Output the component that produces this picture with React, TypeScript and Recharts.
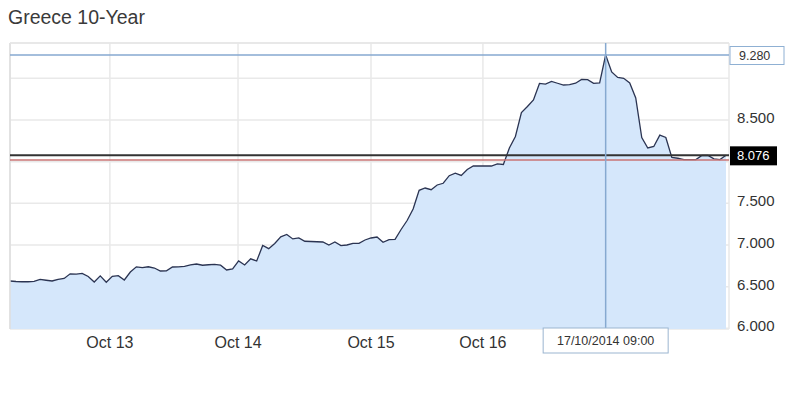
import React from 'react';
import { AreaChart, Area, XAxis, YAxis, CartesianGrid, ReferenceLine } from 'recharts';

const chartTitle = 'Greece 10-Year';
const dayLabels = ['Oct 13', 'Oct 14', 'Oct 15', 'Oct 16'];
const dayTickIndex = [16.6, 37.9, 60.0, 78.6];
const yields = [
  6.568, 6.562, 6.559, 6.559, 6.564, 6.587, 6.577, 6.568, 6.588, 6.598,
  6.654, 6.650, 6.660, 6.622, 6.556, 6.630, 6.553, 6.625, 6.632, 6.580,
  6.676, 6.738, 6.728, 6.739, 6.724, 6.688, 6.689, 6.736, 6.738, 6.744,
  6.762, 6.772, 6.757, 6.763, 6.767, 6.758, 6.700, 6.712, 6.809, 6.760,
  6.834, 6.808, 6.994, 6.956, 7.019, 7.098, 7.126, 7.073, 7.086, 7.045,
  7.042, 7.039, 7.036, 7.000, 7.036, 6.992, 7.000, 7.019, 7.019, 7.060,
  7.084, 7.096, 7.032, 7.064, 7.068, 7.186, 7.294, 7.432, 7.656, 7.684,
  7.664, 7.720, 7.741, 7.832, 7.861, 7.835, 7.907, 7.948, 7.948, 7.948,
  7.948, 7.974, 7.966, 8.164, 8.302, 8.588, 8.662, 8.740, 8.939, 8.930,
  8.962, 8.941, 8.920, 8.924, 8.941, 8.988, 8.984, 8.939, 8.945, 9.280,
  9.076, 9.010, 9.000, 8.944, 8.764, 8.290, 8.164, 8.182, 8.318, 8.290,
  8.052, 8.041, 8.025, 8.025, 8.025, 8.074, 8.076, 8.034, 8.025, 8.076,
];
const yTicks = [6, 6.5, 7, 7.5, 8, 8.5, 9];
const hiddenYTicks = [8, 9];
const yDomain = [5.992, 9.424];
const xDomain = [0, 119.5];
const lastValue = 8.076;
const prevClose = 8.02;
const cursorIndex = 99;
const cursorValue = 9.28;
const cursorLabel = '17/10/2014 09:00';

const data = yields.map((v, i) => ({ i, v }));

const FONT = 'Arial, "Liberation Sans", Helvetica, sans-serif';

const XTick = (props: any) => {
  const { x, y, payload } = props;
  const idx = dayTickIndex.indexOf(payload.value);
  return (
    <text x={x} y={y + 11} textAnchor="middle" fontSize={16} fill="#333" fontFamily={FONT}>
      {idx >= 0 ? dayLabels[idx] : ''}
    </text>
  );
};

const YTick = (props: any) => {
  const { x, y, payload } = props;
  if (hiddenYTicks.includes(payload.value)) return <g />;
  return (
    <text x={x} y={y + 3} textAnchor="start" fontSize={15} fill="#333" fontFamily={FONT}>
      {Number(payload.value).toFixed(3)}
    </text>
  );
};

const CursorValueLabel = (props: any) => {
  const { viewBox } = props;
  const x = viewBox.x + viewBox.width + 1;
  const y = viewBox.y;
  return (
    <g>
      <rect x={x} y={y - 8.5} width={54} height={18} fill="#fff" stroke="#8fb0d3" strokeWidth={1} />
      <text x={x + 9} y={y + 5} fontSize={12.5} fill="#333" fontFamily={FONT}>
        {cursorValue.toFixed(3)}
      </text>
    </g>
  );
};

const LastValueLabel = (props: any) => {
  const { viewBox } = props;
  const x = viewBox.x + viewBox.width + 1;
  const y = viewBox.y;
  return (
    <g>
      <rect x={x} y={y - 9} width={47} height={19} fill="#000" />
      <text x={x + 7} y={y + 5} fontSize={13} fill="#fff" fontFamily={FONT}>
        {lastValue.toFixed(3)}
      </text>
    </g>
  );
};

const CursorDateLabel = (props: any) => {
  const { viewBox } = props;
  const cx = viewBox.x;
  const yb = viewBox.y + viewBox.height;
  return (
    <g>
      <rect x={cx - 62.5} y={yb - 1} width={125} height={25} fill="#fff" stroke="#9bb5d0" strokeWidth={1} />
      <text x={cx} y={yb + 16} textAnchor="middle" fontSize={12.5} fill="#333" fontFamily={FONT}>
        {cursorLabel}
      </text>
    </g>
  );
};

export default function App() {
  return (
    <div style={{ position: 'absolute', left: 0, top: 0, width: 785, height: 400, background: '#fff', fontFamily: FONT }}>
      <div style={{ position: 'absolute', left: 8, top: 6, fontSize: 19.5, color: '#3a3a3a', fontFamily: FONT }}>
        {chartTitle}
      </div>
      <AreaChart width={785} height={400} data={data} margin={{ top: 43, right: 0, bottom: 41, left: 10 }}>
        <CartesianGrid stroke="#e9e9e9" strokeWidth={1.5} />
        <XAxis
          dataKey="i"
          type="number"
          domain={xDomain}
          ticks={dayTickIndex}
          tick={<XTick />}
          axisLine={false}
          tickLine={false}
          height={30}
          allowDataOverflow
        />
        <YAxis
          orientation="right"
          type="number"
          domain={yDomain}
          ticks={yTicks}
          tick={<YTick />}
          axisLine={false}
          tickLine={false}
          width={56}
          allowDataOverflow
        />
        <Area
          type="linear"
          dataKey="v"
          stroke="#2b3452"
          strokeWidth={1.3}
          fill="#d5e7fb"
          fillOpacity={1}
          isAnimationActive={false}
          dot={false}
          activeDot={false}
        />
        <ReferenceLine x={xDomain[0]} stroke="#dedede" strokeWidth={1.5} />
        <ReferenceLine y={yDomain[1]} stroke="#e6e6e6" strokeWidth={1.5} />
        <ReferenceLine y={prevClose} stroke="#c87474" strokeWidth={1.5} />
        <ReferenceLine y={lastValue} stroke="#333" strokeWidth={2} label={<LastValueLabel />} />
        <ReferenceLine y={cursorValue} stroke="#86a9d0" strokeWidth={1.5} label={<CursorValueLabel />} />
        <ReferenceLine x={cursorIndex} stroke="#86a9d0" strokeWidth={1.5} label={<CursorDateLabel />} />
      </AreaChart>
    </div>
  );
}
